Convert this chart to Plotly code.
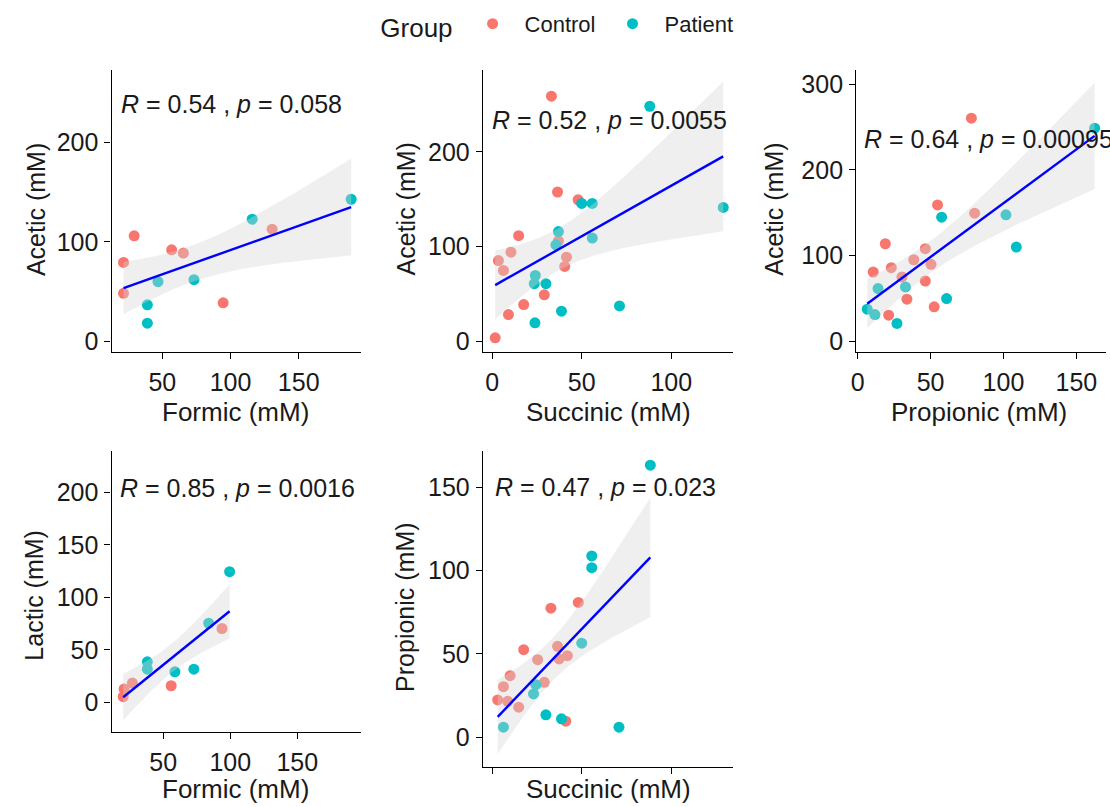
import math
import numpy as np
import plotly.graph_objects as go

W, H = 1110, 807

# ---------------- data ----------------
# Panel 1: Formic (x) vs Acetic (y)
p1_ctrl_x = [21.5, 21.5, 29.3, 56.8, 65.4, 94.6, 130.5]
p1_ctrl_y = [79.3, 48.3, 106, 92, 88.7, 38.7, 112.7]
p1_pat_x = [39, 39, 46.8, 73.2, 115.9, 188.5]
p1_pat_y = [36.7, 18.3, 60, 62, 122.7, 142.7]

# Panel 2: Succinic (x) vs Acetic (y)
p2_ctrl_x = [1.7, 3.5, 6.3, 9.1, 10.5, 14.8, 17.6, 29.1, 33.1, 36.5, 37, 40.5, 41.5, 48]
p2_ctrl_y = [3.5, 85.2, 74.7, 28, 94, 111.5, 38.6, 49, 259, 157.7, 106, 79, 88.7, 149.5]
p2_pat_x = [23.9, 23.5, 24.1, 30, 35.6, 37, 38.7, 50, 55.9, 55.9, 71.1, 88, 129]
p2_pat_y = [19.3, 60.7, 69.5, 60.7, 101.8, 115.8, 31.6, 145.6, 145.6, 109, 37.2, 248.4, 141.4]

# Panel 3: Propionic (x) vs Acetic (y)
p3_ctrl_x = [54.8, 80.2, 19, 46.4, 38.5, 50.3, 10.7, 23.1, 30.4, 46.4, 33.8, 52.5, 21.3, 78]
p3_ctrl_y = [159, 149.4, 113.7, 107.9, 95, 89.7, 80.7, 85.8, 74.9, 70.2, 48.9, 40, 30.3, 260.4]
p3_pat_x = [57.6, 14, 32.8, 61, 6.6, 11.8, 27, 101.7, 108.8, 162.5]
p3_pat_y = [144.7, 61.3, 63.2, 49.7, 37.2, 31, 20.6, 147.5, 109.8, 248.7]

# Panel 4: Formic (x) vs Lactic (y)
p4_ctrl_x = [20.8, 20.1, 27, 55.9, 93.8]
p4_ctrl_y = [12.7, 5.4, 18.3, 15.8, 70.3]
p4_pat_x = [38.1, 38.1, 58.7, 72.8, 83.9, 99.5]
p4_pat_y = [38.6, 31.6, 29.1, 31.6, 75.3, 124.4]

# Panel 5: Succinic (x) vs Propionic (y)
p5_ctrl_x = [32.8, 48.1, 17.6, 36.5, 25.4, 37.4, 42, 10, 6.3, 29.1, 3.1, 8.7, 14.8, 41.1]
p5_ctrl_y = [77.4, 80.8, 52.5, 54.5, 46.5, 46.9, 48.9, 36.9, 30.3, 32.9, 22.3, 21.5, 18, 9.6]
p5_pat_x = [50, 24.4, 23.1, 30, 38.7, 6.3, 70.8, 55.6, 55.6, 88.3]
p5_pat_y = [56.4, 31.5, 25.9, 13.4, 11, 6, 6, 101.7, 108.7, 163.2]

x_titles = ["Formic (mM)", "Succinic (mM)", "Propionic (mM)", "Formic (mM)", "Succinic (mM)"]
y_titles = ["Acetic (mM)", "Acetic (mM)", "Acetic (mM)", "Lactic (mM)", "Propionic (mM)"]
stat_labels = [
    "<i>R</i> = 0.54 , <i>p</i> = 0.058",
    "<i>R</i> = 0.52 , <i>p</i> = 0.0055",
    "<i>R</i> = 0.64 , <i>p</i> = 0.00095",
    "<i>R</i> = 0.85 , <i>p</i> = 0.0016",
    "<i>R</i> = 0.47 , <i>p</i> = 0.023",
]
x_tickvals = [[50, 100, 150], [0, 50, 100], [0, 50, 100, 150], [50, 100, 150], [0, 50, 100]]
y_tickvals = [[0, 100, 200], [0, 100, 200], [0, 100, 200, 300], [0, 50, 100, 150, 200], [0, 50, 100, 150]]
groups = ["Control", "Patient"]

# ---------------- styling / layout constants ----------------
COL = {"Control": "#F8766D", "Patient": "#00BFC4"}
FONT = "Liberation Sans, Arial, sans-serif"
TXT = "#1a1a1a"

# pixel boxes of each panel: (left, right, top, bottom)
boxes = [(107, 358, 70, 353), (480, 731, 70, 353), (855, 1106, 70, 353),
         (107, 358, 453, 735), (480, 731, 453, 770)]
x_ranges = [[12.7, 196], [-5.2, 134.3], [-1, 170.3], [11.4, 197.8], [-5.2, 134.3]]
y_ranges = [[-10.3, 272.7], [-11.2, 287], [-12.4, 317], [-28.5, 239], [-18, 171.5]]
label_y = [238, 234, 236, 204, 150]
xtitle_pos = [(232, 414), (606, 414), (978, 414), (232, 792), (606, 792)]
ytitle_pos = [(31, 210), (403, 210), (773, 210), (29, 597), (402, 610)]
show_xlabels = [True, True, True, True, False]

panels = [
    (p1_ctrl_x, p1_ctrl_y, p1_pat_x, p1_pat_y),
    (p2_ctrl_x, p2_ctrl_y, p2_pat_x, p2_pat_y),
    (p3_ctrl_x, p3_ctrl_y, p3_pat_x, p3_pat_y),
    (p4_ctrl_x, p4_ctrl_y, p4_pat_x, p4_pat_y),
    (p5_ctrl_x, p5_ctrl_y, p5_pat_x, p5_pat_y),
]


def t_975(df):
    xs = np.linspace(0, 30, 300001)
    c = math.gamma((df + 1) / 2) / (math.sqrt(df * math.pi) * math.gamma(df / 2))
    pdf = c * (1 + xs ** 2 / df) ** (-(df + 1) / 2)
    cdf = 0.5 + np.concatenate([[0], np.cumsum((pdf[1:] + pdf[:-1]) / 2 * np.diff(xs))])
    return float(np.interp(0.975, cdf, xs))


def lm_band(x, y, n_grid=80):
    x = np.asarray(x, float)
    y = np.asarray(y, float)
    n = len(x)
    b, a = np.polyfit(x, y, 1)
    resid = y - (a + b * x)
    s = math.sqrt((resid ** 2).sum() / (n - 2))
    xm = x.mean()
    sxx = ((x - xm) ** 2).sum()
    g = np.linspace(x.min(), x.max(), n_grid)
    fit = a + b * g
    se = s * np.sqrt(1 / n + (g - xm) ** 2 / sxx)
    t = t_975(n - 2)
    return g, fit, fit - t * se, fit + t * se


fig = go.Figure()
annotations = []
layout = {}

for i, (cx, cy, px, py) in enumerate(panels):
    k = "" if i == 0 else str(i + 1)
    xa, ya = "x" + k, "y" + k
    for g, gx, gy in (("Control", cx, cy), ("Patient", px, py)):
        fig.add_trace(go.Scatter(
            x=gx, y=gy, mode="markers", name=g, legendgroup=g, showlegend=(i == 0),
            marker=dict(color=COL[g], size=11, line=dict(width=0)),
            xaxis=xa, yaxis=ya))
    allx = list(cx) + list(px)
    ally = list(cy) + list(py)
    gx_, fit, lo, hi = lm_band(allx, ally)
    fig.add_trace(go.Scatter(
        x=np.concatenate([gx_, gx_[::-1]]), y=np.concatenate([hi, lo[::-1]]),
        fill="toself", fillcolor="rgba(212,212,212,0.38)", line=dict(width=0),
        mode="lines", showlegend=False, hoverinfo="skip", xaxis=xa, yaxis=ya))
    fig.add_trace(go.Scatter(
        x=gx_, y=fit, mode="lines", line=dict(color="#0000FF", width=2.4),
        showlegend=False, hoverinfo="skip", xaxis=xa, yaxis=ya))

    L, R, T, B = boxes[i]
    common = dict(showline=True, linecolor="black", linewidth=1.2, ticks="outside",
                  ticklen=6, tickwidth=1.2, tickcolor="black", showgrid=False,
                  zeroline=False, tickfont=dict(family=FONT, size=25, color=TXT))
    layout["xaxis" + k] = dict(common, domain=[L / W, R / W], range=x_ranges[i],
                               tickvals=x_tickvals[i], anchor=ya,
                               showticklabels=show_xlabels[i], ticklabelstandoff=2)
    layout["yaxis" + k] = dict(common, domain=[1 - B / H, 1 - T / H], range=y_ranges[i],
                               tickvals=y_tickvals[i], anchor=xa, ticklabelstandoff=1)

    annotations.append(dict(text=stat_labels[i], x=min(allx), y=label_y[i], xref=xa, yref=ya,
                            xanchor="left", yanchor="middle", showarrow=False, xshift=-5,
                            font=dict(family=FONT, size=25, color=TXT)))
    tx, ty = xtitle_pos[i]
    annotations.append(dict(text=x_titles[i], x=tx / W, y=1 - ty / H, xref="paper", yref="paper",
                            xanchor="center", yanchor="middle", showarrow=False,
                            font=dict(family=FONT, size=26, color=TXT)))
    tx, ty = ytitle_pos[i]
    annotations.append(dict(text=y_titles[i], x=tx / W, y=1 - ty / H, xref="paper", yref="paper",
                            xanchor="center", yanchor="middle", showarrow=False, textangle=-90,
                            font=dict(family=FONT, size=25, color=TXT)))

fig.update_layout(
    width=W, height=H, margin=dict(l=0, r=0, t=0, b=0),
    paper_bgcolor="white", plot_bgcolor="white",
    annotations=annotations,
    legend=dict(orientation="h", x=375 / W, xanchor="left", y=1 - 25 / H, yanchor="middle",
                title=dict(text="Group", font=dict(family=FONT, size=26, color=TXT)),
                font=dict(family=FONT, size=22, color=TXT), itemwidth=54,
                bgcolor="rgba(0,0,0,0)"),
    **layout,
)

fig.write_html("out.html", config={"displayModeBar": False},
               post_script="document.body.style.margin='0';")
